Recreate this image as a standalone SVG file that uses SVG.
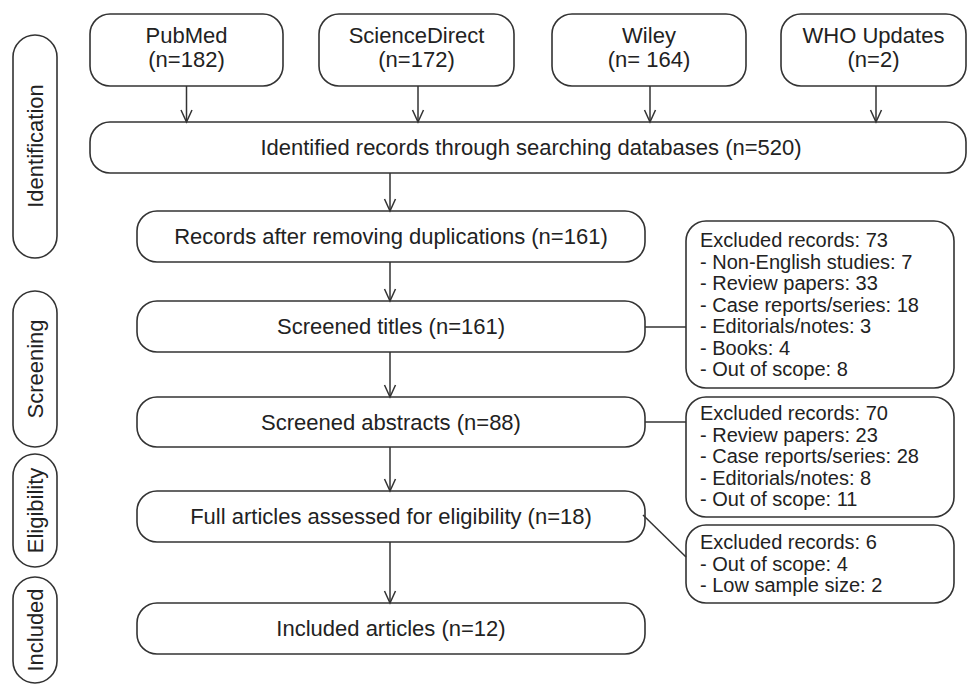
<svg xmlns="http://www.w3.org/2000/svg" width="968" height="685" viewBox="0 0 968 685">
<defs>
<style>
.box{fill:#fff;stroke:#333;stroke-width:1.6}
.t{font-family:"Liberation Sans",Arial,sans-serif;font-size:22px;fill:#222;text-anchor:middle}
.s{font-family:"Liberation Sans",Arial,sans-serif;font-size:20px;fill:#222}
.c{fill:none;stroke:#333;stroke-width:1.5}
</style>
<marker id="ah" markerUnits="userSpaceOnUse" viewBox="-13 -7 15 14" markerWidth="15" markerHeight="14" refX="0" refY="0" orient="auto">
<path d="M-12,-5.5 L0,0 L-12,5.5" fill="none" stroke="#333" stroke-width="1.5"/>
</marker>
</defs>
<rect width="968" height="685" fill="#fff"/>

<g id="stage-identification"><rect class="box" x="13" y="35" width="44" height="223" rx="22"/><text class="t" transform="translate(43,146) rotate(-90)">Identification</text></g>
<g id="stage-screening"><rect class="box" x="13" y="291" width="44" height="156" rx="22"/><text class="t" transform="translate(43,369) rotate(-90)">Screening</text></g>
<g id="stage-eligibility"><rect class="box" x="13" y="454" width="44" height="113" rx="22"/><text class="t" transform="translate(43,510.5) rotate(-90)">Eligibility</text></g>
<g id="stage-included"><rect class="box" x="13" y="577" width="44" height="106" rx="22"/><text class="t" transform="translate(43,630) rotate(-90)">Included</text></g>

<g id="pubmed"><rect class="box" x="90" y="14" width="193" height="72" rx="20"/><text class="t" x="186.5" y="43">PubMed</text><text class="t" x="186.5" y="67">(n=182)</text></g>
<g id="sciencedirect"><rect class="box" x="319" y="14" width="195" height="72" rx="20"/><text class="t" x="416.5" y="43">ScienceDirect</text><text class="t" x="416.5" y="67">(n=172)</text></g>
<g id="wiley"><rect class="box" x="552" y="14" width="194" height="72" rx="20"/><text class="t" x="649" y="43">Wiley</text><text class="t" x="649" y="67">(n= 164)</text></g>
<g id="who"><rect class="box" x="781" y="14" width="185" height="72" rx="20"/><text class="t" x="873.5" y="43">WHO Updates</text><text class="t" x="873.5" y="67">(n=2)</text></g>

<g id="identified"><rect class="box" x="90" y="122" width="876" height="51" rx="20"/><text class="t" x="531" y="155">Identified records through searching databases (n=520)</text></g>
<g id="deduplicated"><rect class="box" x="137" y="211" width="508" height="51" rx="20"/><text class="t" x="391" y="244">Records after removing duplications (n=161)</text></g>
<g id="titles"><rect class="box" x="137" y="301" width="508" height="51" rx="20"/><text class="t" x="391" y="334">Screened titles (n=161)</text></g>
<g id="abstracts"><rect class="box" x="137" y="397" width="508" height="50" rx="20"/><text class="t" x="391" y="430">Screened abstracts (n=88)</text></g>
<g id="fulltext"><rect class="box" x="137" y="491" width="508" height="51" rx="20"/><text class="t" x="391" y="524">Full articles assessed for eligibility (n=18)</text></g>
<g id="included"><rect class="box" x="137" y="603" width="508" height="51" rx="20"/><text class="t" x="391" y="636">Included articles (n=12)</text></g>

<g id="excluded-titles"><rect class="box" x="686" y="221" width="268" height="167" rx="20"/>
<text class="s" x="700" y="247">Excluded records: 73</text>
<text class="s" x="700" y="268.5">- Non-English studies: 7</text>
<text class="s" x="700" y="290">- Review papers: 33</text>
<text class="s" x="700" y="311.5">- Case reports/series: 18</text>
<text class="s" x="700" y="333">- Editorials/notes: 3</text>
<text class="s" x="700" y="354.5">- Books: 4</text>
<text class="s" x="700" y="376">- Out of scope: 8</text></g>
<g id="excluded-abstracts"><rect class="box" x="686" y="397" width="268" height="120" rx="20"/>
<text class="s" x="700" y="420">Excluded records: 70</text>
<text class="s" x="700" y="441.5">- Review papers: 23</text>
<text class="s" x="700" y="463">- Case reports/series: 28</text>
<text class="s" x="700" y="484.5">- Editorials/notes: 8</text>
<text class="s" x="700" y="506">- Out of scope: 11</text></g>
<g id="excluded-fulltext"><rect class="box" x="686" y="525" width="268" height="78" rx="20"/>
<text class="s" x="700" y="549">Excluded records: 6</text>
<text class="s" x="700" y="570.5">- Out of scope: 4</text>
<text class="s" x="700" y="592">- Low sample size: 2</text></g>

<g id="connectors">
<line class="c" x1="186.5" y1="86" x2="186.5" y2="122" marker-end="url(#ah)"/>
<line class="c" x1="418" y1="86" x2="418" y2="122" marker-end="url(#ah)"/>
<line class="c" x1="650" y1="86" x2="650" y2="122" marker-end="url(#ah)"/>
<line class="c" x1="876" y1="86" x2="876" y2="122" marker-end="url(#ah)"/>
<line class="c" x1="390" y1="173" x2="390" y2="211" marker-end="url(#ah)"/>
<line class="c" x1="390" y1="262" x2="390" y2="301" marker-end="url(#ah)"/>
<line class="c" x1="390" y1="352" x2="390" y2="397" marker-end="url(#ah)"/>
<line class="c" x1="390" y1="447" x2="390" y2="491" marker-end="url(#ah)"/>
<line class="c" x1="390" y1="542" x2="390" y2="603" marker-end="url(#ah)"/>
<line class="c" x1="645" y1="327" x2="686" y2="327"/>
<line class="c" x1="645" y1="422" x2="686" y2="422"/>
<line class="c" x1="643" y1="515" x2="686" y2="557"/>
</g>
</svg>
